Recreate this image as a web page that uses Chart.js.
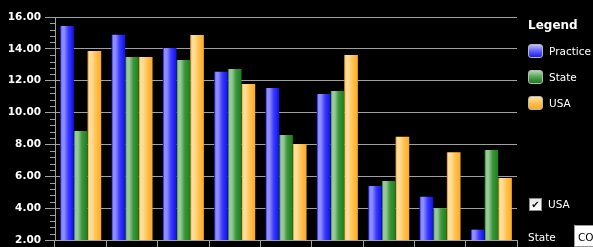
<!DOCTYPE html>
<html>
<head>
<meta charset="utf-8">
<script src="https://cdn.jsdelivr.net/npm/chart.js@4/dist/chart.umd.min.js"></script>
<style>
  html, body { margin: 0; padding: 0; background: #000; overflow: hidden; }
  #wrap { position: relative; width: 593px; height: 247px; background: #000; }
  #c { position: absolute; left: 0; top: 0; }
  .lg { position: absolute; font-family: "DejaVu Sans", Verdana, sans-serif; color: #fff; }
  .title { left: 528px; top: 18px; font-size: 12px; font-weight: bold; }
  .item { left: 528px; font-size: 10.5px; height: 15px; line-height: 15px; white-space: nowrap; }
  .box { display: inline-block; width: 13px; height: 12px; border: 1px solid #b8b8b8; border-radius: 3px; vertical-align: top; margin-right: 6px; }
  .chk { left: 529px; top: 198px; font-size: 10.5px; line-height: 13px; white-space: nowrap; }
  .cb { display: inline-block; width: 11px; height: 11px; border: 1px solid #8a8a8a; background: linear-gradient(#e8e8e8, #ffffff); color: #111; font-size: 10px; line-height: 11px; text-align: center; vertical-align: top; margin-right: 6px; }
  .st { left: 528px; top: 231px; font-size: 10.5px; }
  .tb { position: absolute; left: 574px; top: 225px; width: 30px; height: 22px; background: #fff; color: #000; font-family: "DejaVu Sans", Verdana, sans-serif; font-size: 10.5px; line-height: 22px; padding-left: 3px; box-sizing: border-box; border: 1px solid #999; }
</style>
</head>
<body>
<div id="wrap">
  <canvas id="c" width="593" height="247"></canvas>
  <div class="lg title">Legend</div>
  <div class="lg item" style="top:44px"><span class="box" style="background:linear-gradient(#b8b8ff,#6a6aff 45%,#1c1cf0)"></span>Practice</div>
  <div class="lg item" style="top:70px"><span class="box" style="background:linear-gradient(#b0d8b0,#5aa85a 45%,#1a7a1a)"></span>State</div>
  <div class="lg item" style="top:96px"><span class="box" style="background:linear-gradient(#ffe2a8,#ffc456 45%,#ffa820)"></span>USA</div>
  <div class="lg chk"><span class="cb">✔</span>USA</div>
  <div class="lg st">State</div>
  <div class="tb">CO</div>
</div>
<script>
const categories = ["1", "2", "3", "4", "5", "6", "7", "8", "9"];
const practice = [15.43, 14.89, 14.05, 12.57, 11.54, 11.17, 5.39, 4.72, 2.65];
const stateVals = [8.84, 13.49, 13.30, 12.73, 8.59, 11.35, 5.70, 3.99, 7.65];
const usa = [13.86, 13.49, 14.87, 11.79, 8.03, 13.61, 8.48, 7.51, 5.89];
const yTicks = [2, 4, 6, 8, 10, 12, 14, 16];

const palettes = [
  ["#0a0ab0", "#8c8cff", "#3a3aff", "#1010e8"],
  ["#0e5e0e", "#98c898", "#3a963a", "#1d7f1d"],
  ["#d08a10", "#ffdc98", "#ffc350", "#ffaa22"]
];
const CAT_PCT = 0.8, NDS = 3;

function barGradient(context) {
  const chart = context.chart;
  const pal = palettes[context.datasetIndex];
  const xs = chart.scales && chart.scales.x;
  if (!chart.chartArea || !xs || context.dataIndex === undefined) return pal[2];
  const catW = (chart.chartArea.right - chart.chartArea.left) / categories.length;
  const bw = catW * CAT_PCT / NDS;
  const cx = xs.getPixelForValue(context.dataIndex) + (context.datasetIndex - 1) * bw;
  const x0 = cx - bw / 2, x1 = cx + bw / 2;
  const g = chart.ctx.createLinearGradient(x0, 0, x1, 0);
  g.addColorStop(0, pal[0]);
  g.addColorStop(0.12, pal[1]);
  g.addColorStop(0.3, pal[1]);
  g.addColorStop(0.6, pal[2]);
  g.addColorStop(1, pal[3]);
  return g;
}

const minorTicks = {
  id: 'minorTicks',
  afterDraw(chart) {
    const y = chart.scales.y;
    const ctx = chart.ctx;
    const xr = chart.chartArea.left;
    ctx.save();
    ctx.strokeStyle = '#a0a0a0';
    ctx.lineWidth = 1;
    for (let i = 0; i < yTicks.length - 1; i++) {
      const a = yTicks[i], b = yTicks[i + 1];
      for (let k = 1; k < 5; k++) {
        const v = a + (b - a) * k / 5;
        const py = Math.round(y.getPixelForValue(v)) + 0.5;
        ctx.beginPath();
        ctx.moveTo(xr - 5, py);
        ctx.lineTo(xr, py);
        ctx.stroke();
      }
    }
    ctx.restore();
  }
};

const ds = (label, data) => ({
  label, data,
  backgroundColor: barGradient,
  borderWidth: 0,
  categoryPercentage: CAT_PCT,
  barPercentage: 1.0
});

new Chart(document.getElementById('c'), {
  type: 'bar',
  data: {
    labels: categories,
    datasets: [ds('Practice', practice), ds('State', stateVals), ds('USA', usa)]
  },
  options: {
    responsive: false,
    animation: false,
    devicePixelRatio: 1,
    layout: { padding: { left: 0, right: 76, top: 17, bottom: 0 } },
    plugins: { legend: { display: false }, tooltip: { enabled: false } },
    scales: {
      x: {
        grid: { display: true, drawOnChartArea: false, drawTicks: true, tickLength: 7, color: '#a0a0a0', offset: true },
        border: { display: true, color: '#a0a0a0' },
        ticks: { display: false },
        afterFit(s) { s.height = 7; s.paddingLeft = 0; s.paddingRight = 0; }
      },
      y: {
        min: 2, max: 16,
        afterBuildTicks(s) { s.ticks = yTicks.map(v => ({ value: v })); },
        grid: { color: '#a0a0a0', tickLength: 10, lineWidth: 1 },
        border: { display: true, color: '#a0a0a0' },
        ticks: {
          color: '#ffffff',
          padding: 4,
          font: { family: 'DejaVu Sans', size: 10.5, weight: 'bold' },
          callback: v => Number(v).toFixed(2)
        },
        afterFit(s) { s.width = 55; s.paddingTop = 0; s.paddingBottom = 0; }
      }
    }
  },
  plugins: [minorTicks]
});
</script>
</body>
</html>
